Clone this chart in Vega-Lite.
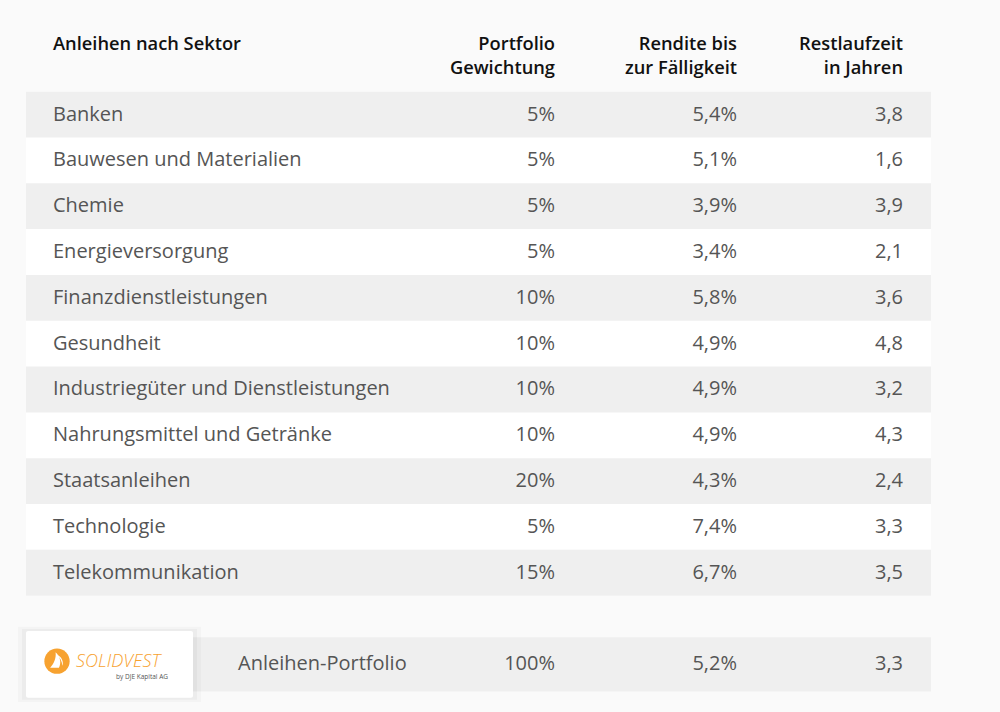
{
  "$schema": "https://vega.github.io/schema/vega-lite/v6.json",
  "width": 1000,
  "height": 712,
  "padding": 0,
  "autosize": {"type": "none"},
  "background": "#fafafa",
  "config": {
    "view": {"stroke": null},
    "font": "Open Sans",
    "locale": {"number": {"decimal": ",", "thousands": ".", "grouping": [3], "currency": ["", " €"]}}
  },
  "datasets": {
    "tabelle": [
      {"zeile": 1, "sektor": "Banken", "gewichtung": 0.05, "rendite": 0.054, "laufzeit": 3.8},
      {"zeile": 2, "sektor": "Bauwesen und Materialien", "gewichtung": 0.05, "rendite": 0.051, "laufzeit": 1.6},
      {"zeile": 3, "sektor": "Chemie", "gewichtung": 0.05, "rendite": 0.039, "laufzeit": 3.9},
      {"zeile": 4, "sektor": "Energieversorgung", "gewichtung": 0.05, "rendite": 0.034, "laufzeit": 2.1},
      {"zeile": 5, "sektor": "Finanzdienstleistungen", "gewichtung": 0.10, "rendite": 0.058, "laufzeit": 3.6},
      {"zeile": 6, "sektor": "Gesundheit", "gewichtung": 0.10, "rendite": 0.049, "laufzeit": 4.8},
      {"zeile": 7, "sektor": "Industriegüter und Dienstleistungen", "gewichtung": 0.10, "rendite": 0.049, "laufzeit": 3.2},
      {"zeile": 8, "sektor": "Nahrungsmittel und Getränke", "gewichtung": 0.10, "rendite": 0.049, "laufzeit": 4.3},
      {"zeile": 9, "sektor": "Staatsanleihen", "gewichtung": 0.20, "rendite": 0.043, "laufzeit": 2.4},
      {"zeile": 10, "sektor": "Technologie", "gewichtung": 0.05, "rendite": 0.074, "laufzeit": 3.3},
      {"zeile": 11, "sektor": "Telekommunikation", "gewichtung": 0.15, "rendite": 0.067, "laufzeit": 3.5},
      {"zeile": 13, "sektor": "Anleihen-Portfolio", "gewichtung": 1.00, "rendite": 0.052, "laufzeit": 3.3}
    ],
    "kopf": [
      {"zeile": 0, "spalte": "Sektor", "titel": "Anleihen nach Sektor"},
      {"zeile": 0, "spalte": "Gewichtung", "titel": "Portfolio\nGewichtung"},
      {"zeile": 0, "spalte": "Rendite", "titel": "Rendite bis\nzur Fälligkeit"},
      {"zeile": 0, "spalte": "Laufzeit", "titel": "Restlaufzeit\nin Jahren"}
    ]
  },
  "resolve": {"scale": {"x": "independent"}},
  "layer": [
    {
      "data": {"name": "tabelle"},
      "transform": [{"filter": "datum.zeile <= 11"}],
      "mark": {"type": "rect", "fill": "#ffffff"},
      "encoding": {
        "x": {"datum": "Tabelle", "type": "nominal", "scale": {"type": "band", "range": [26, 931], "paddingInner": 0, "paddingOuter": 0}, "axis": null},
        "y": {"field": "zeile", "type": "ordinal", "scale": {"type": "band", "domain": [-1, 0, 1, 2, 3, 4, 5, 6, 7, 8, 9, 10, 11, 12, 13], "range": [0, 687.3], "paddingInner": 0, "paddingOuter": 0}, "axis": null}
      }
    },
    {
      "data": {"name": "tabelle"},
      "transform": [{"filter": "datum.zeile <= 11 && datum.zeile % 2 == 1"}],
      "mark": {"type": "rect", "fill": "#efefef"},
      "encoding": {
        "x": {"datum": "Tabelle", "type": "nominal", "scale": {"type": "band", "range": [26, 931], "paddingInner": 0, "paddingOuter": 0}, "axis": null},
        "y": {"field": "zeile", "type": "ordinal", "axis": null}
      }
    },
    {
      "data": {"name": "tabelle"},
      "transform": [{"filter": "datum.zeile == 13"}],
      "mark": {"type": "rect", "fill": "#efefef", "height": {"band": 1.18}},
      "encoding": {
        "x": {"datum": "Tabelle", "type": "nominal", "scale": {"type": "band", "range": [26, 931], "paddingInner": 0, "paddingOuter": 0}, "axis": null},
        "y": {"field": "zeile", "type": "ordinal", "axis": null}
      }
    },
    {
      "data": {"name": "tabelle"},
      "transform": [{"filter": "datum.zeile == 13"}],
      "mark": {"type": "rect", "fill": "#000000", "opacity": 0.025, "height": {"band": 1.64}},
      "encoding": {
        "x": {"datum": "Logo", "type": "nominal", "scale": {"type": "band", "range": [18, 201], "paddingInner": 0, "paddingOuter": 0}, "axis": null},
        "y": {"field": "zeile", "type": "ordinal", "axis": null}
      }
    },
    {
      "data": {"name": "tabelle"},
      "transform": [{"filter": "datum.zeile == 13"}],
      "mark": {"type": "rect", "fill": "#000000", "opacity": 0.03, "height": {"band": 1.54}},
      "encoding": {
        "x": {"datum": "Logo", "type": "nominal", "scale": {"type": "band", "range": [22, 197], "paddingInner": 0, "paddingOuter": 0}, "axis": null},
        "y": {"field": "zeile", "type": "ordinal", "axis": null}
      }
    },
    {
      "data": {"name": "tabelle"},
      "transform": [{"filter": "datum.zeile == 13"}],
      "mark": {"type": "rect", "fill": "#ffffff", "height": {"band": 1.46}, "cornerRadius": 2},
      "encoding": {
        "x": {"datum": "Logo", "type": "nominal", "scale": {"type": "band", "range": [26, 193], "paddingInner": 0, "paddingOuter": 0}, "axis": null},
        "y": {"field": "zeile", "type": "ordinal", "axis": null}
      }
    },
    {
      "data": {"name": "tabelle"},
      "transform": [{"filter": "datum.zeile == 13"}],
      "mark": {"type": "point", "shape": "circle", "filled": true, "fill": "#f7a230", "opacity": 1, "size": 640, "strokeWidth": 0},
      "encoding": {
        "x": {"datum": "Kreis", "type": "nominal", "scale": {"type": "point", "range": [57, 57]}, "axis": null},
        "y": {"field": "zeile", "type": "ordinal", "bandPosition": 0.43, "axis": null}
      }
    },
    {
      "data": {"name": "tabelle"},
      "transform": [{"filter": "datum.zeile == 13"}],
      "mark": {"type": "point", "shape": "M -0.05 -1 C 0.55 -0.45 0.65 0.3 0.35 0.85 L -0.7 0.85 C -0.3 0.45 0.05 -0.25 -0.05 -1 Z M 0.1 -0.75 C 0.7 -0.5 0.95 0.2 0.75 0.6 C 0.75 0.1 0.5 -0.4 0.1 -0.75 Z", "filled": true, "fill": "#ffffff", "opacity": 1, "size": 280, "strokeWidth": 0},
      "encoding": {
        "x": {"datum": "Segel", "type": "nominal", "scale": {"type": "point", "range": [56, 56]}, "axis": null},
        "y": {"field": "zeile", "type": "ordinal", "bandPosition": 0.42, "axis": null}
      }
    },
    {
      "data": {"name": "tabelle"},
      "transform": [{"filter": "datum.zeile == 13"}],
      "mark": {"type": "text", "text": "SOLIDVEST", "align": "left", "baseline": "alphabetic", "fontSize": 18, "fontStyle": "italic", "fontWeight": 300, "color": "#f7a230"},
      "encoding": {
        "x": {"datum": "Marke", "type": "nominal", "scale": {"type": "point", "range": [76, 76]}, "axis": null},
        "y": {"field": "zeile", "type": "ordinal", "bandPosition": 0.55, "axis": null}
      }
    },
    {
      "data": {"name": "tabelle"},
      "transform": [{"filter": "datum.zeile == 13"}],
      "mark": {"type": "text", "text": "by DJE Kapital AG", "align": "right", "baseline": "alphabetic", "fontSize": 6.5, "color": "#555555"},
      "encoding": {
        "x": {"datum": "Zusatz", "type": "nominal", "scale": {"type": "point", "range": [168, 168]}, "axis": null},
        "y": {"field": "zeile", "type": "ordinal", "bandPosition": 0.82, "axis": null}
      }
    },
    {
      "layer": [
        {
          "data": {"name": "kopf"},
          "transform": [{"filter": "datum.spalte == 'Sektor'"}],
          "mark": {"type": "text", "align": "left", "baseline": "alphabetic", "fontSize": 18.3, "fontWeight": 600, "color": "#111111", "lineBreak": "\n", "lineHeight": 24},
          "encoding": {
            "x": {"datum": "Sektor", "type": "nominal", "scale": {"type": "point", "range": [53, 53]}, "axis": null},
            "y": {"field": "zeile", "type": "ordinal", "bandPosition": 0.1, "axis": null},
            "text": {"field": "titel", "type": "nominal"}
          }
        },
        {
          "data": {"name": "tabelle"},
          "transform": [{"filter": "datum.zeile <= 11"}],
          "mark": {"type": "text", "align": "left", "baseline": "middle", "fontSize": 20, "color": "#555555"},
          "encoding": {
            "x": {"datum": "Sektor", "type": "nominal", "axis": null},
            "y": {"field": "zeile", "type": "ordinal", "axis": null},
            "text": {"field": "sektor", "type": "nominal"}
          }
        }
      ]
    },
    {
      "data": {"name": "tabelle"},
      "transform": [{"filter": "datum.zeile == 13"}],
      "mark": {"type": "text", "align": "left", "baseline": "middle", "fontSize": 20, "color": "#555555"},
      "encoding": {
        "x": {"datum": "Gesamt", "type": "nominal", "scale": {"type": "point", "range": [238, 238]}, "axis": null},
        "y": {"field": "zeile", "type": "ordinal", "axis": null},
        "text": {"field": "sektor", "type": "nominal"}
      }
    },
    {
      "layer": [
        {
          "data": {"name": "kopf"},
          "transform": [{"filter": "datum.spalte == 'Gewichtung'"}],
          "mark": {"type": "text", "align": "right", "baseline": "alphabetic", "fontSize": 18.3, "fontWeight": 600, "color": "#111111", "lineBreak": "\n", "lineHeight": 24},
          "encoding": {
            "x": {"datum": "Gewichtung", "type": "nominal", "scale": {"type": "point", "range": [555, 555]}, "axis": null},
            "y": {"field": "zeile", "type": "ordinal", "bandPosition": 0.1, "axis": null},
            "text": {"field": "titel", "type": "nominal"}
          }
        },
        {
          "data": {"name": "tabelle"},
          "mark": {"type": "text", "align": "right", "baseline": "middle", "fontSize": 20, "color": "#555555"},
          "encoding": {
            "x": {"datum": "Gewichtung", "type": "nominal", "axis": null},
            "y": {"field": "zeile", "type": "ordinal", "axis": null},
            "text": {"field": "gewichtung", "type": "quantitative", "format": ".0%"}
          }
        }
      ]
    },
    {
      "layer": [
        {
          "data": {"name": "kopf"},
          "transform": [{"filter": "datum.spalte == 'Rendite'"}],
          "mark": {"type": "text", "align": "right", "baseline": "alphabetic", "fontSize": 18.3, "fontWeight": 600, "color": "#111111", "lineBreak": "\n", "lineHeight": 24},
          "encoding": {
            "x": {"datum": "Rendite", "type": "nominal", "scale": {"type": "point", "range": [737, 737]}, "axis": null},
            "y": {"field": "zeile", "type": "ordinal", "bandPosition": 0.1, "axis": null},
            "text": {"field": "titel", "type": "nominal"}
          }
        },
        {
          "data": {"name": "tabelle"},
          "mark": {"type": "text", "align": "right", "baseline": "middle", "fontSize": 20, "color": "#555555"},
          "encoding": {
            "x": {"datum": "Rendite", "type": "nominal", "axis": null},
            "y": {"field": "zeile", "type": "ordinal", "axis": null},
            "text": {"field": "rendite", "type": "quantitative", "format": ".1%"}
          }
        }
      ]
    },
    {
      "layer": [
        {
          "data": {"name": "kopf"},
          "transform": [{"filter": "datum.spalte == 'Laufzeit'"}],
          "mark": {"type": "text", "align": "right", "baseline": "alphabetic", "fontSize": 18.3, "fontWeight": 600, "color": "#111111", "lineBreak": "\n", "lineHeight": 24},
          "encoding": {
            "x": {"datum": "Laufzeit", "type": "nominal", "scale": {"type": "point", "range": [903, 903]}, "axis": null},
            "y": {"field": "zeile", "type": "ordinal", "bandPosition": 0.1, "axis": null},
            "text": {"field": "titel", "type": "nominal"}
          }
        },
        {
          "data": {"name": "tabelle"},
          "mark": {"type": "text", "align": "right", "baseline": "middle", "fontSize": 20, "color": "#555555"},
          "encoding": {
            "x": {"datum": "Laufzeit", "type": "nominal", "axis": null},
            "y": {"field": "zeile", "type": "ordinal", "axis": null},
            "text": {"field": "laufzeit", "type": "quantitative", "format": ".1f"}
          }
        }
      ]
    }
  ]
}
